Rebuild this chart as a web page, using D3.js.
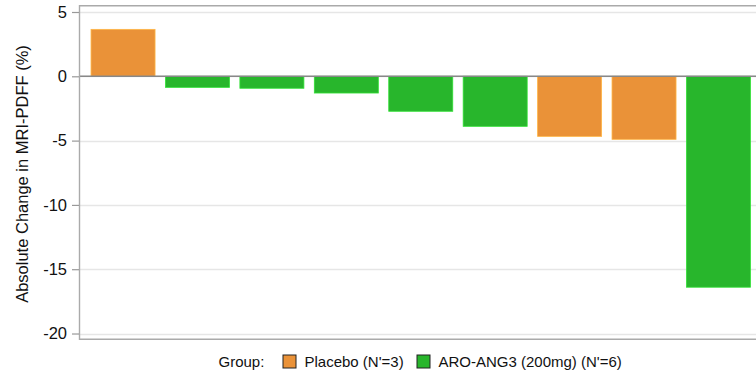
<!DOCTYPE html>
<html>
<head>
<meta charset="utf-8">
<script src="https://cdn.jsdelivr.net/npm/d3@7"></script>
<style>
  body { margin: 0; background: #fff; }
  svg { display: block; font-family: Arial, "Liberation Sans", Helvetica, sans-serif; }
</style>
</head>
<body>
<svg id="chart" width="756" height="375"></svg>
<script>
// Per-patient absolute change in MRI-PDFF, sorted from largest increase to largest decrease
const patients = ["P1", "P2", "P3", "P4", "P5", "P6", "P7", "P8", "P9"];
const changes = [3.65, -0.86, -0.93, -1.3, -2.72, -3.89, -4.67, -4.9, -16.4];
const groups = ["Placebo", "ARO", "ARO", "ARO", "ARO", "ARO", "Placebo", "Placebo", "ARO"];
const groupKeys = ["Placebo", "ARO"];
const groupLabels = ["Placebo (N'=3)", "ARO-ANG3 (200mg) (N'=6)"];
const groupColors = ["#EA9238", "#28B62C"];
const yTicks = [5, 0, -5, -10, -15, -20];

const svg = d3.select("#chart");
const panel = { left: 79.5, right: 762, top: 5.7, bottom: 339.3 };

const x = d3.scaleBand()
  .domain(patients)
  .range([panel.left, panel.right])
  .paddingInner(0.14)
  .paddingOuter(0.155);

const y = d3.scaleLinear()
  .domain([-20.45, 5.49])
  .range([panel.bottom, panel.top]);

const color = d3.scaleOrdinal().domain(groupKeys).range(groupColors);

// Horizontal grid lines
svg.append("g")
  .selectAll("line")
  .data(yTicks)
  .join("line")
  .attr("x1", panel.left)
  .attr("x2", panel.right)
  .attr("y1", d => Math.round(y(d)) + 0.5)
  .attr("y2", d => Math.round(y(d)) + 0.5)
  .attr("stroke", "#e6e6e6")
  .attr("stroke-width", 1.3);

// Bars
const rows = patients.map((p, i) => ({ p, v: changes[i], g: groups[i] }));
svg.append("g")
  .selectAll("rect")
  .data(rows)
  .join("rect")
  .attr("x", d => x(d.p))
  .attr("width", x.bandwidth())
  .attr("y", d => y(Math.max(0, d.v)))
  .attr("height", d => Math.abs(y(d.v) - y(0)))
  .attr("fill", d => color(d.g))
  .attr("stroke", d => d3.color(color(d.g)).brighter(0.6))
  .attr("stroke-width", 0.8);

// Zero reference line
svg.append("line")
  .attr("x1", panel.left)
  .attr("x2", panel.right)
  .attr("y1", y(0))
  .attr("y2", y(0))
  .attr("stroke", "#888")
  .attr("stroke-width", 1.4);

// Panel frame: top, bottom and left edges
svg.append("path")
  .attr("d", `M${panel.right},${panel.top}H${panel.left}V${panel.bottom}H${panel.right}`)
  .attr("fill", "none")
  .attr("stroke", "#aaa")
  .attr("stroke-width", 1.4);

// Y axis ticks and labels
const yAxis = d3.axisLeft(y).tickValues(yTicks).tickSize(7).tickPadding(5)
  .tickFormat(d3.format("d"));
const gy = svg.append("g")
  .attr("transform", `translate(${panel.left - 0.5},0)`)
  .call(yAxis);
gy.select(".domain").remove();
gy.selectAll(".tick line").attr("stroke", "#999").attr("stroke-width", 1.2);
gy.selectAll(".tick text")
  .attr("fill", "#111")
  .style("font-size", "16.5px")
  .text(d => (d < 0 ? "-" + Math.abs(d) : d));

// Y axis title
svg.append("text")
  .attr("transform", `translate(28,${(panel.top + panel.bottom) / 2 + 1.5}) rotate(-90)`)
  .attr("text-anchor", "middle")
  .attr("fill", "#111")
  .style("font-size", "16.5px")
  .text("Absolute Change in MRI-PDFF (%)");

// Legend
const legend = svg.append("g").style("font-size", "15px").attr("fill", "#111");
legend.append("text").attr("x", 218.5).attr("y", 366.5).text("Group:");
const legendX = [283, 417];
groupKeys.forEach((k, i) => {
  legend.append("rect")
    .attr("x", legendX[i]).attr("y", 355)
    .attr("width", 13).attr("height", 13)
    .attr("fill", color(k))
    .attr("stroke", "#222")
    .attr("stroke-width", 1);
  legend.append("text")
    .attr("x", legendX[i] + 21.5).attr("y", 366.5)
    .text(groupLabels[i]);
});
</script>
</body>
</html>
